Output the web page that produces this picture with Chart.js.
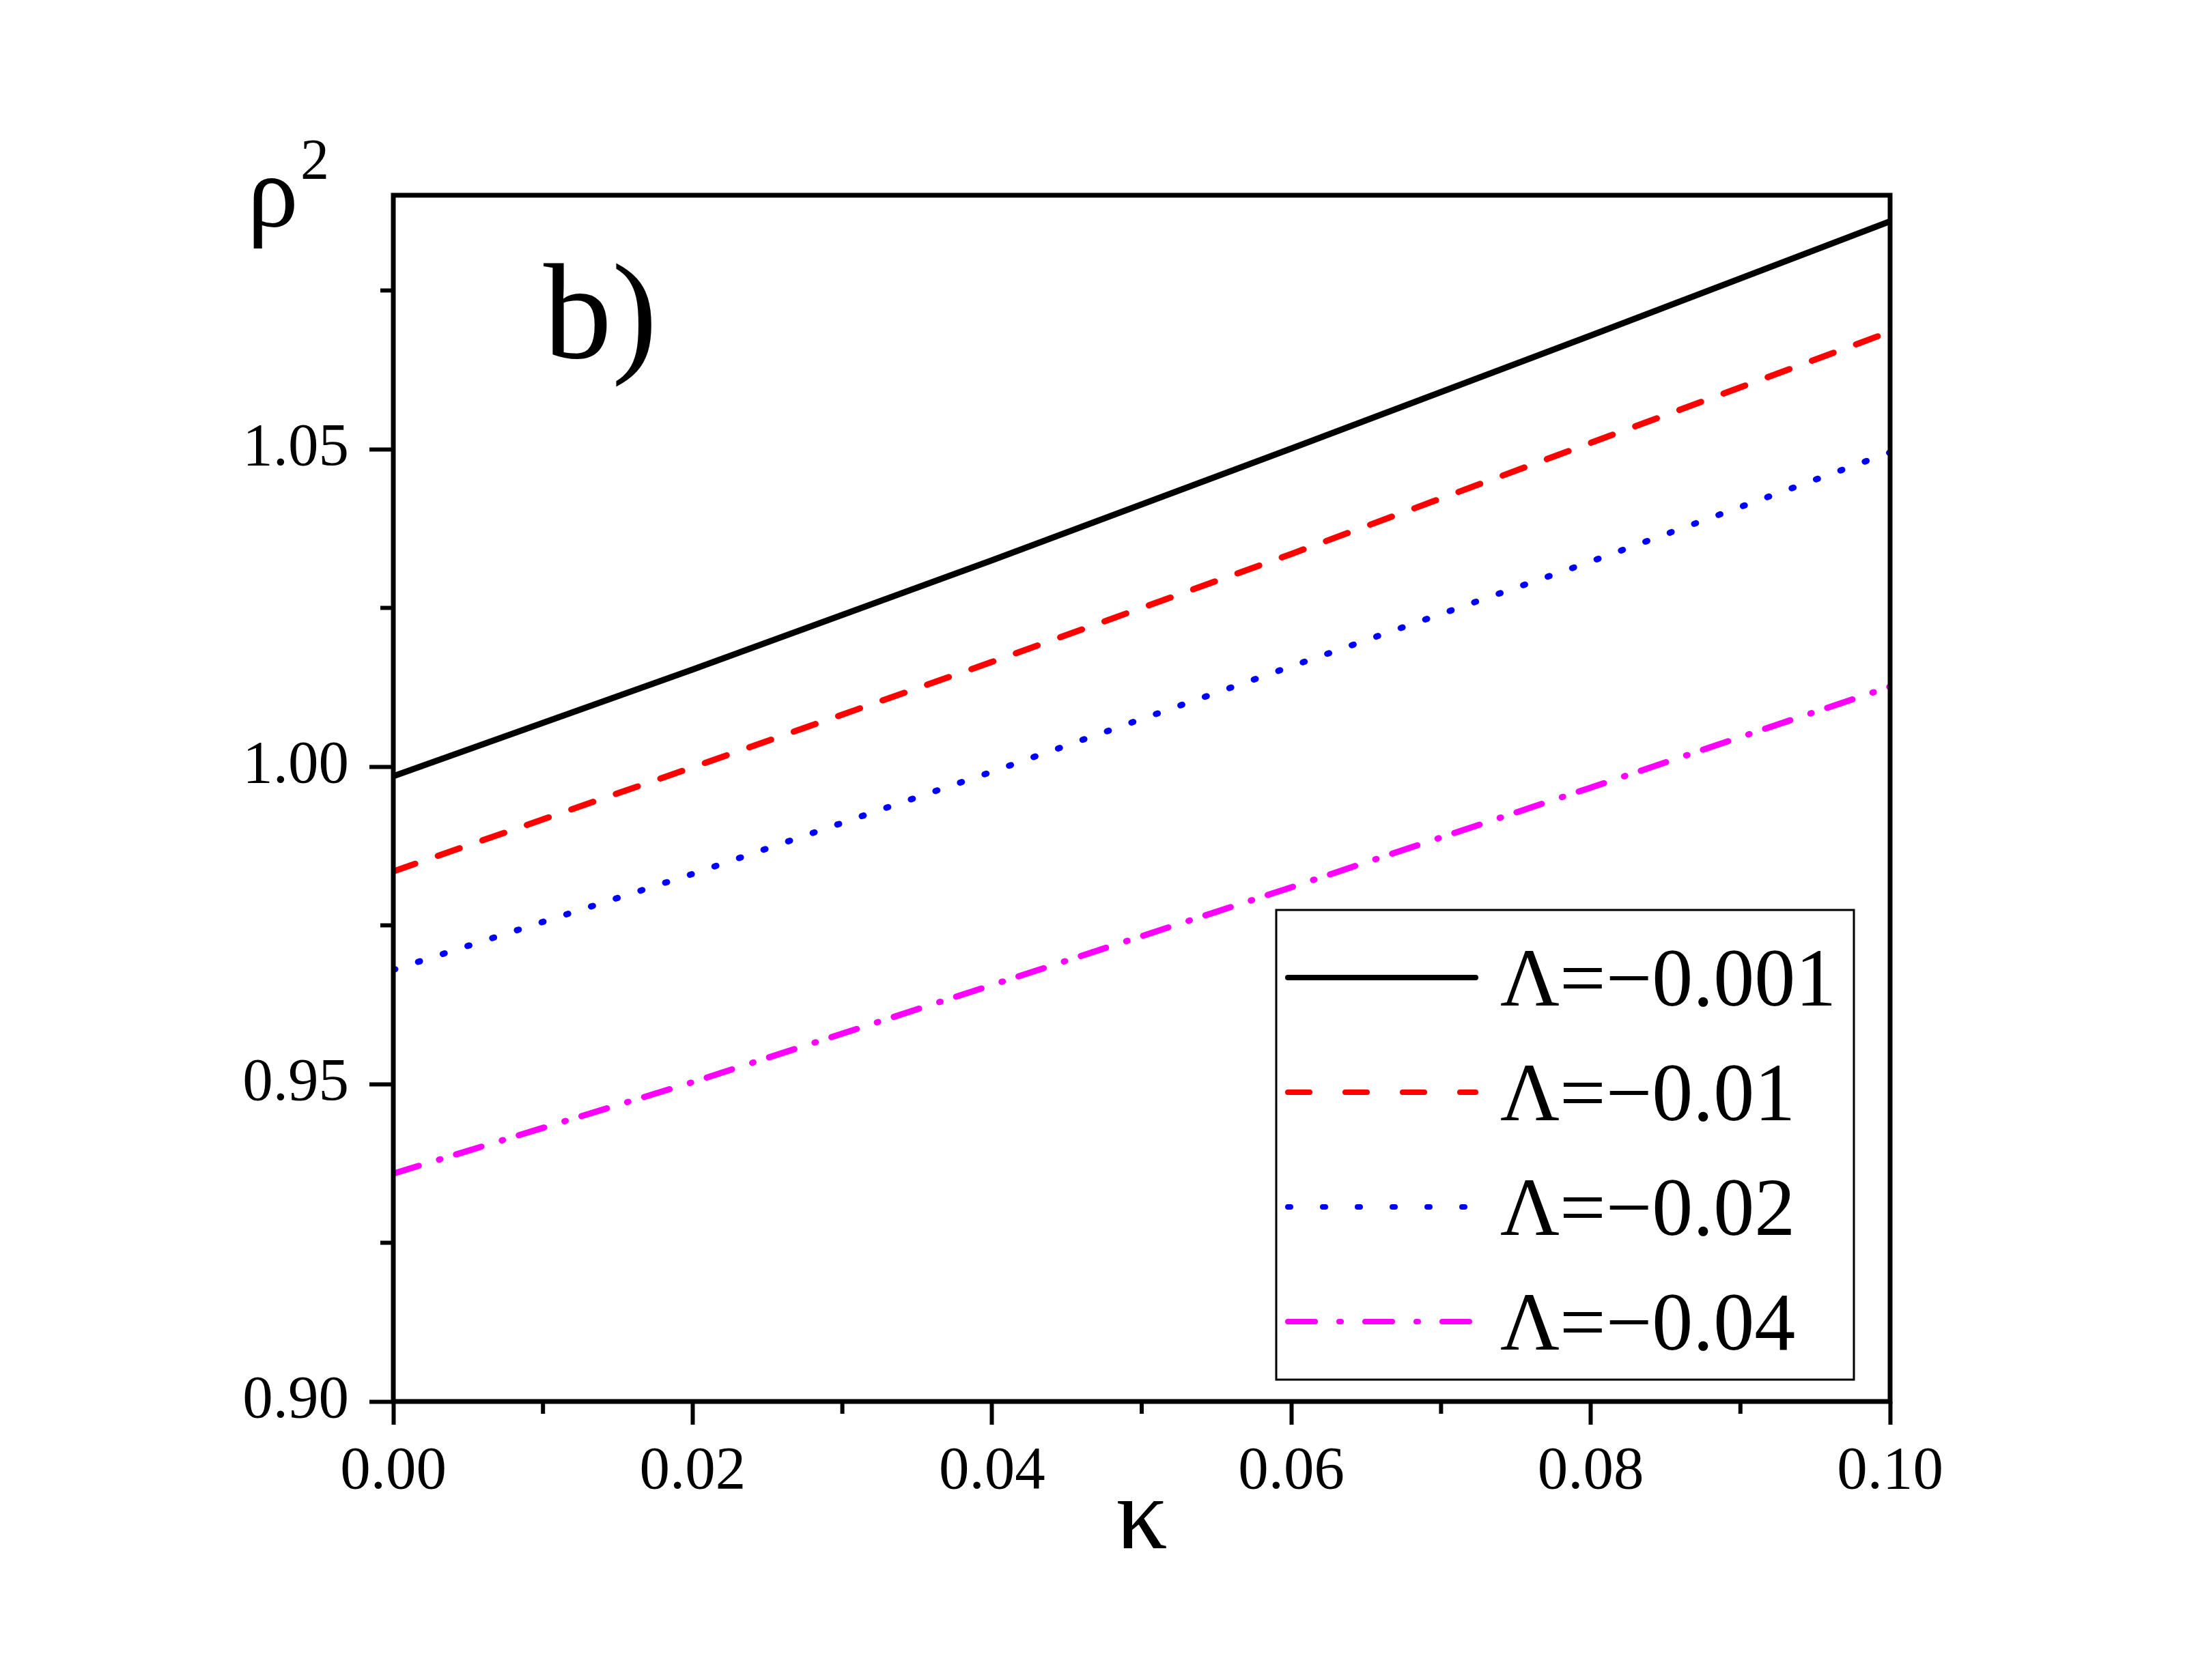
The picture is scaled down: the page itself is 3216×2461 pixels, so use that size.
<!DOCTYPE html>
<html>
<head>
<meta charset="utf-8">
<script src="https://cdn.jsdelivr.net/npm/chart.js@4.4.1/dist/chart.umd.min.js"></script>
<style>
  html, body { margin: 0; padding: 0; background: #ffffff; }
  #wrap { width: 3216px; height: 2461px; position: relative; }
</style>
</head>
<body>
<div id="wrap"><canvas id="rhoChart"></canvas></div>
<script>
// values
const kappa = [0.00, 0.02, 0.04, 0.06, 0.08, 0.10];
const rhoL001 = [0.9985, 1.0153, 1.0325, 1.0501, 1.0679, 1.0859];
const rhoL01 = [0.9835, 0.9999, 1.0165, 1.0335, 1.0510, 1.0685];
const rhoL02 = [0.9680, 0.9831, 0.9992, 1.0158, 1.0323, 1.0495];
const rhoL04 = [0.9359, 0.9503, 0.9656, 0.9810, 0.9967, 1.0126];
const seriesLabels = ["Λ=−0.001", "Λ=−0.01", "Λ=−0.02", "Λ=−0.04"];
const xMinorTicks = [0.01, 0.03, 0.05, 0.07, 0.09];
const yMinorTicks = [0.925, 0.975, 1.025, 1.075];

const FONT = "'Liberation Serif', 'Times New Roman', serif";
const LW = 9;

const pts = (ys) => kappa.map((k, i) => ({ x: k, y: ys[i] }));

// dash patterns: in plot, and slightly longer in the legend
const styles = [
  { color: "#000000", dash: [], legendDash: [] },
  { color: "#ff0000", dash: [34, 35], legendDash: [32, 52] },
  { color: "#0000ff", dash: [3, 35], legendDash: [4, 47] },
  { color: "#ff00ff", dash: [39, 31, 2, 24], legendDash: [40, 35, 3, 35] }
];

const frameAndExtras = {
  id: "frameAndExtras",
  afterDraw(chart) {
    const ctx = chart.ctx;
    const a = chart.chartArea;
    const xs = chart.scales.x, ys = chart.scales.y;
    ctx.save();
    ctx.strokeStyle = "#000";
    ctx.lineCap = "butt";

    // box round the plot
    ctx.lineWidth = 7;
    ctx.strokeRect(a.left, a.top, a.right - a.left, a.bottom - a.top);

    // minor ticks
    ctx.lineWidth = 6;
    ctx.beginPath();
    xMinorTicks.forEach(v => {
      const px = xs.getPixelForValue(v);
      ctx.moveTo(px, a.bottom);
      ctx.lineTo(px, a.bottom + 18);
    });
    yMinorTicks.forEach(v => {
      const py = ys.getPixelForValue(v);
      ctx.moveTo(a.left, py);
      ctx.lineTo(a.left - 19, py);
    });
    ctx.stroke();

    // axis titles and panel mark
    ctx.fillStyle = "#000";
    ctx.textBaseline = "alphabetic";
    ctx.textAlign = "left";
    ctx.font = "150px " + FONT;
    ctx.fillText("ρ", 362, 332);
    ctx.font = "84px " + FONT;
    ctx.fillText("2", 440, 262);
    ctx.font = "200px " + FONT;
    ctx.fillText("b)", 796, 524);
    ctx.font = "150px " + FONT;
    ctx.textAlign = "center";
    ctx.fillText("κ", (a.left + a.right) / 2, 2268);

    // legend with a frame
    const bx = a.right - 53 - 846, by = a.bottom - 32 - 688;
    ctx.lineWidth = 3;
    ctx.strokeRect(bx, by, 846, 688);
    ctx.font = "120px " + FONT;
    ctx.textAlign = "left";
    seriesLabels.forEach((lab, i) => {
      const ry = by + 99 + i * 168;
      ctx.save();
      ctx.strokeStyle = styles[i].color;
      ctx.lineWidth = 8;
      ctx.lineCap = "round";
      ctx.setLineDash(styles[i].legendDash);
      ctx.beginPath();
      ctx.moveTo(bx + 17, ry);
      ctx.lineTo(bx + 292, ry);
      ctx.stroke();
      ctx.restore();
      ctx.fillText(lab, bx + 328, ry + 41);
    });
    ctx.restore();
  }
};

const ctx = document.getElementById("rhoChart").getContext("2d");
new Chart(ctx, {
  type: "line",
  data: {
    datasets: [rhoL001, rhoL01, rhoL02, rhoL04].map((ys, i) => ({
      label: seriesLabels[i],
      data: pts(ys),
      borderColor: styles[i].color,
      borderWidth: LW,
      borderDash: styles[i].dash,
      borderCapStyle: "round",
      pointRadius: 0,
      fill: false,
      tension: 0
    }))
  },
  options: {
    responsive: true,
    maintainAspectRatio: false,
    devicePixelRatio: 1,
    animation: false,
    layout: { padding: { left: 0, top: 286, right: 448, bottom: 0 } },
    plugins: {
      legend: { display: false },
      tooltip: { enabled: false },
      title: { display: false }
    },
    scales: {
      x: {
        type: "linear",
        min: 0,
        max: 0.1,
        afterFit: (s) => { s.height = 408; },
        border: { display: false },
        grid: { drawOnChartArea: false, drawTicks: true, tickLength: 34, tickWidth: 6, tickColor: "#000" },
        ticks: {
          stepSize: 0.02,
          includeBounds: false,
          color: "#000",
          padding: 16,
          maxRotation: 0,
          font: { family: FONT, size: 89 },
          callback: (v) => v.toFixed(2)
        }
      },
      y: {
        min: 0.9,
        max: 1.09,
        afterFit: (s) => { s.width = 576; },
        border: { display: false },
        grid: { drawOnChartArea: false, drawTicks: true, tickLength: 35, tickWidth: 6, tickColor: "#000" },
        ticks: {
          stepSize: 0.05,
          includeBounds: false,
          color: "#000",
          padding: 30,
          font: { family: FONT, size: 89 },
          callback: (v) => v.toFixed(2)
        }
      }
    }
  },
  plugins: [frameAndExtras]
});
</script>
</body>
</html>
